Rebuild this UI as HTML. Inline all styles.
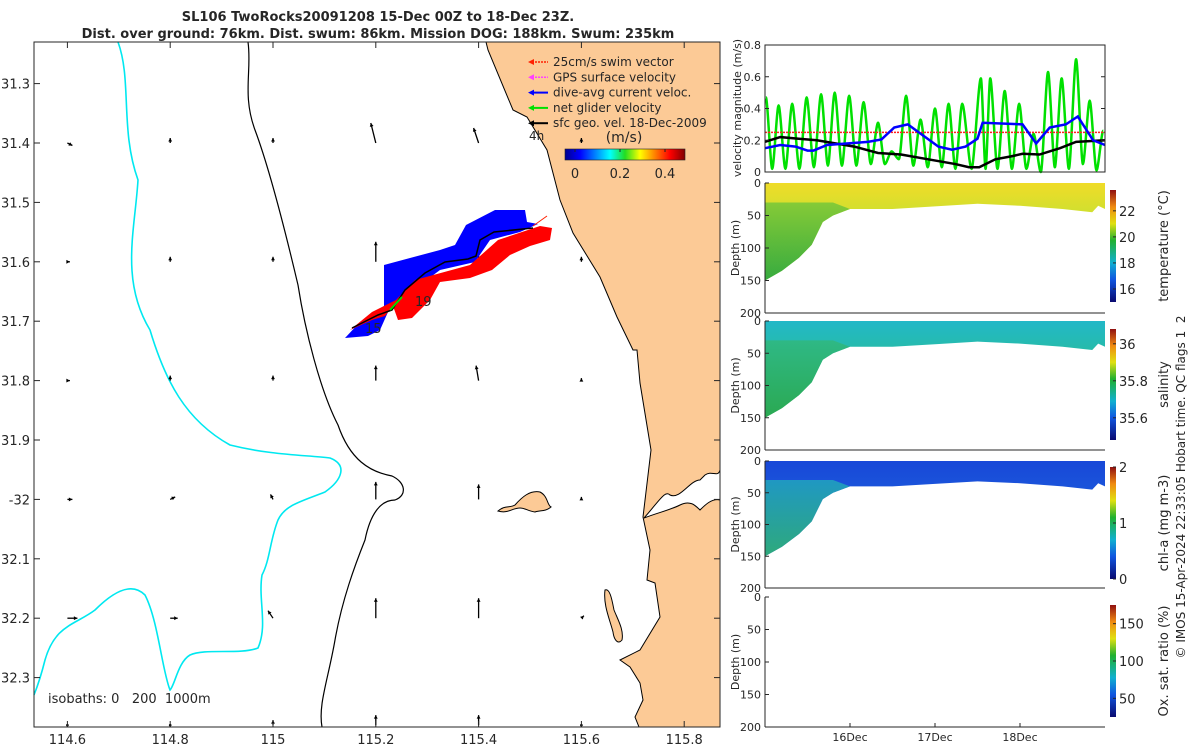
<!DOCTYPE html>
<html><head><meta charset="utf-8">
<style>
html,body{margin:0;padding:0;background:#fff;}
body{width:1200px;height:750px;overflow:hidden;font-family:"Liberation Sans","DejaVu Sans",sans-serif;}
svg text{font-family:"DejaVu Sans","Liberation Sans",sans-serif;fill:#262626;}
</style></head>
<body>
<svg id="fig" width="1200" height="750" viewBox="0 0 1200 750">
<defs>
<linearGradient id="jet" x1="0" x2="1" y1="0" y2="0">
<stop offset="0" stop-color="#00008f"/><stop offset="0.125" stop-color="#0000ff"/><stop offset="0.375" stop-color="#00ffff"/><stop offset="0.5" stop-color="#22dd22"/><stop offset="0.625" stop-color="#ffff00"/><stop offset="0.875" stop-color="#ff0000"/><stop offset="1" stop-color="#800000"/>
</linearGradient>
<linearGradient id="parula" x1="0" x2="0" y1="1" y2="0">
<stop offset="0" stop-color="#0a0a70"/><stop offset="0.2" stop-color="#1055e0"/><stop offset="0.35" stop-color="#10b0d0"/><stop offset="0.55" stop-color="#20b030"/><stop offset="0.7" stop-color="#e0e010"/><stop offset="0.85" stop-color="#f08a10"/><stop offset="1" stop-color="#901010"/>
</linearGradient>
<linearGradient id="tempG" x1="0" x2="0" y1="0" y2="1"><stop offset="0" stop-color="#f0dc28"/><stop offset="0.35" stop-color="#cce030"/><stop offset="1" stop-color="#a8d838"/></linearGradient>
<linearGradient id="tempDeep" x1="0" x2="0" y1="0" y2="1"><stop offset="0" stop-color="#7cc838"/><stop offset="1" stop-color="#2aa640"/></linearGradient>
<linearGradient id="salG" x1="0" x2="0" y1="0" y2="1"><stop offset="0" stop-color="#22b8c8"/><stop offset="0.4" stop-color="#28bca0"/><stop offset="1" stop-color="#30b060"/></linearGradient>
<linearGradient id="salDeep" x1="0" x2="0" y1="0" y2="1"><stop offset="0" stop-color="#30b880"/><stop offset="1" stop-color="#2aa850"/></linearGradient>
<linearGradient id="chlG" x1="0" x2="0" y1="0" y2="1"><stop offset="0" stop-color="#1848d8"/><stop offset="1" stop-color="#2070e0"/></linearGradient>
<linearGradient id="chlDeep" x1="0" x2="0" y1="0" y2="1"><stop offset="0" stop-color="#20a0c0"/><stop offset="1" stop-color="#30b070"/></linearGradient>
</defs>
<g id="map"></g>
<g id="right"></g>
<text x="378" y="21" text-anchor="middle" font-size="13" font-weight="bold">SL106 TwoRocks20091208 15-Dec 00Z to 18-Dec 23Z.</text>
<text x="378" y="38" text-anchor="middle" font-size="13" font-weight="bold">Dist. over ground: 76km. Dist. swum: 86km. Mission DOG: 188km. Swum: 235km</text>
</svg>
<script>
// ---------- MAP DATA ----------
const lonTicks = [114.6, 114.8, 115, 115.2, 115.4, 115.6, 115.8];
const lonTickLabels = ["114.6","114.8","115","115.2","115.4","115.6","115.8"];
const latTicks = [31.3,31.4,31.5,31.6,31.7,31.8,31.9,32.0,32.1,32.2,32.3];
const latTickLabels = ["31.3","31.4","31.5","31.6","31.7","31.8","31.9","-32","32.1","32.2","32.3"];
const arrowLons = [114.6, 114.8, 115, 115.2, 115.4, 115.6];
const arrowLats = [31.4, 31.6, 31.8, 32.0, 32.2, 32.38];
// u,v components (m/s) per row (lat) x column (lon)
const arrowU = [
 [0.02,0,0,-0.02,-0.02,0],
 [0.01,0,0,0,0,0],
 [0.01,0,0,0,-0.01,0],
 [0.02,0.02,-0.01,0,0,0],
 [0.04,0.03,-0.02,0,0,0.01],
 [0,0,0,0,0,0]];
const arrowV = [
 [-0.01,0.02,0.02,0.08,0.06,0.02],
 [0,0.02,0.02,0.08,0.06,0.02],
 [0,0.02,0.02,0.06,0.06,0.01],
 [0,0.01,0.02,0.07,0.06,0.01],
 [0,0,0.03,0.08,0.08,0.01],
 [0,0,0.02,0.04,0.04,0]];

const NS='http://www.w3.org/2000/svg';
function mk(tag, attrs, parent){const e=document.createElementNS(NS,tag);for(const k in attrs)e.setAttribute(k,attrs[k]);if(parent)parent.appendChild(e);return e;}
const map=document.getElementById('map');
const MX0=34, MX1=720, MY0=42, MY1=727;
function lx(lon){return 273 + (lon-115)*514;}
function ly(lat){return 143 + (lat-31.4)*594;}

const landPts=[[486,42],[720,42],[720,727],[639,727],[635,717],[643,700],[640,683],[630,667],[620,660],[640,650],[660,617],[655,583],[647,580],[650,550],[643,517],[651,450],[640,383],[637,350],[633,350],[617,317],[600,277],[573,233],[560,200],[547,150],[527,117],[513,110],[488,50]];
let p=mk('polygon',{points:landPts.map(q=>q.join(',')).join(' '),fill:'#fcca96',stroke:'#000','stroke-width':1},map);

p=mk('path',{d:'M644,518 C660,500 665,490 670,495 C680,500 690,480 700,480 L705,475 C712,470 718,478 720,470 L720,500 C712,498 705,505 700,510 C695,505 690,500 680,505 C670,510 660,512 644,518 Z',fill:'#fff',stroke:'#000','stroke-width':1},map);

p=mk('path',{d:'M498,511 C505,505 510,508 515,505 C522,497 530,490 540,492 C548,496 547,505 551,507 C545,512 540,510 535,512 C528,511 525,508 520,508 C512,508 508,514 498,511 Z',fill:'#fcca96',stroke:'#000','stroke-width':1},map);

p=mk('path',{d:'M605,590 C610,588 612,600 614,610 C618,620 624,630 622,640 C618,645 614,640 613,632 C610,620 603,605 605,590 Z',fill:'#fcca96',stroke:'#000','stroke-width':1},map);


p=mk('path',{d:'M248,42 C252,70 242,95 255,130 C270,170 285,230 298,285 C305,330 320,390 338,425 C350,460 370,472 392,476 C405,482 408,495 395,500 C380,500 370,515 365,540 C355,565 342,600 335,640 C328,680 318,705 322,727',fill:'none',stroke:'#000','stroke-width':1.2},map);

p=mk('path',{d:'M118,42 C132,80 120,130 138,180 C135,230 120,280 150,330 C165,380 185,420 230,445 C270,455 305,455 330,458 C348,465 342,480 325,492 C300,502 285,505 278,520 C270,540 270,560 262,575 C258,600 268,625 258,648 C240,655 205,648 190,655 C178,662 175,685 170,690 C162,670 158,620 145,595 C130,580 110,595 95,610 C75,625 55,625 45,660 C40,680 36,690 34,695',fill:'none',stroke:'#00e8f0','stroke-width':1.6},map);


arrowLats.forEach((la,i)=>arrowLons.forEach((lo,j)=>{
  const x=lx(lo), y=ly(la), u=arrowU[i][j]*250, v=arrowV[i][j]*250;
  const g=mk('g',{},map);
  
  
  if(u===0&&v===0){ mk('circle',{cx:x,cy:y,r:1.3,fill:'#000'},g); return; }
  const x2=x+u, y2=y-v;
  mk('line',{x1:x,y1:y,x2:x2,y2:y2,stroke:'#000','stroke-width':1.3},g);
  const ang=Math.atan2(y2-y,x2-x), L=4;
  mk('polygon',{points:`${x2},${y2} ${x2-L*Math.cos(ang-0.5)},${y2-L*Math.sin(ang-0.5)} ${x2-L*Math.cos(ang+0.5)},${y2-L*Math.sin(ang+0.5)}`,fill:'#000'},g);
}));

p=mk('polygon',{points:'345,338 360,322 384,306 384,265 410,258 440,250 455,245 466,225 495,210 525,210 527,222 538,224 520,232 490,240 475,262 440,270 420,285 400,300 388,312 380,330 368,336',fill:'#0000ff'},map);

p=mk('polygon',{points:'350,330 372,312 396,300 415,280 470,265 498,240 540,226 552,228 550,240 530,246 510,255 492,270 470,278 440,282 430,300 412,318 398,320 393,306 385,316 372,320',fill:'#ff0000'},map);

p=mk('polyline',{points:'352,328 378,315 392,310 405,290 425,273 445,262 468,259 476,256 480,240 494,232 533,228',fill:'none',stroke:'#000','stroke-width':1.5},map);

p=mk('line',{x1:390,y1:310,x2:402,y2:297,stroke:'#00e000','stroke-width':2},map);

p=mk('line',{x1:533,y1:226,x2:547,y2:216,stroke:'#ff2000','stroke-width':1},map);

let t=mk('text',{x:415,y:306,'font-size':13},map);t.textContent='19';

t=mk('text',{x:365,y:333,'font-size':13},map);t.textContent='15';


const legendLabels=['25cm/s swim vector','GPS surface velocity','dive-avg current veloc.','net glider velocity','sfc geo. vel. 18-Dec-2009'];
const legendColors=['#ff2000','#ff40ff','#0000ff','#00e000','#000'];
legendLabels.forEach((lab,i)=>{
  const y=62+i*15.3;
  const g=mk('g',{},map);
  
  
  mk('line',{x1:532,y1:y,x2:548,y2:y,stroke:legendColors[i],'stroke-width':i>=2?2:1.5,'stroke-dasharray':i<2?'2,1':'none'},g);
  mk('polygon',{points:`528,${y} 534,${y-3} 534,${y+3}`,fill:legendColors[i]},g);
  const tx=mk('text',{x:553,y:y+4,'font-size':12},g);tx.textContent=lab;
});
t=mk('text',{x:529,y:140,'font-size':12},map);t.textContent='4h';

const cbTicks=[0,0.2,0.4], cbLabels=['0','0.2','0.4'];
const cbg=mk('g',{},map);
mk('rect',{x:565,y:149,width:120,height:11,fill:'url(#jet)',stroke:'#222','stroke-width':0.6},cbg);
function cbx(v){return 575+v*(665-575)/0.4;}
cbTicks.forEach((v,i)=>{mk('line',{x1:cbx(v),y1:149,x2:cbx(v),y2:152,stroke:'#222'},cbg);const tt=mk('text',{x:cbx(v),y:178,'font-size':13,'text-anchor':'middle'},cbg);tt.textContent=cbLabels[i];});
t=mk('text',{x:624,y:142,'font-size':14,'text-anchor':'middle'},cbg);t.textContent='(m/s)';

p=mk('rect',{x:MX0,y:MY0,width:MX1-MX0,height:MY1-MY0,fill:'none',stroke:'#262626','stroke-width':1},map);

lonTicks.forEach((lo,i)=>{const x=lx(lo);mk('line',{x1:x,y1:MY1,x2:x,y2:MY1-6,stroke:'#262626'},map);mk('line',{x1:x,y1:MY0,x2:x,y2:MY0+6,stroke:'#262626'},map);
 const tt=mk('text',{x:x,y:744,'font-size':13,'text-anchor':'middle'},map);tt.textContent=lonTickLabels[i];
 });
latTicks.forEach((la,i)=>{const y=ly(la);mk('line',{x1:MX0,y1:y,x2:MX0+6,y2:y,stroke:'#262626'},map);mk('line',{x1:MX1,y1:y,x2:MX1-6,y2:y,stroke:'#262626'},map);
 const tt=mk('text',{x:30,y:y+5,'font-size':13,'text-anchor':'end'},map);tt.textContent=latTickLabels[i];
 });
t=mk('text',{x:48,y:703,'font-size':13},map);t.textContent='isobaths: 0\u00a0\u00a0\u00a0200\u00a0\u00a01000m';

</script>
<script>
// ---------- RIGHT PANELS DATA ----------
const greenPeakDays = [0.01,0.16,0.32,0.49,0.66,0.82,0.99,1.16,1.33,1.49,1.66,1.83,2.0,2.16,2.32,2.54,2.65,2.82,2.99,3.16,3.33,3.49,3.66,3.82,3.98];
const greenPeakVals = [0.47,0.42,0.43,0.47,0.49,0.50,0.48,0.44,0.31,0.13,0.48,0.33,0.40,0.43,0.43,0.59,0.59,0.51,0.43,0.24,0.63,0.59,0.71,0.45,0.26];
const greenTroughVals = [0.02,0.02,0.02,0.03,0.04,0.04,0.04,0.05,0.05,0.08,0.04,0.03,0.03,0.02,0.02,0.02,0.02,0.02,0.02,0.0,0.03,0.02,0.05,0.01];
const blueDays = [0,0.18,0.36,0.5,0.57,0.73,1.21,1.37,1.52,1.68,2.04,2.2,2.36,2.5,2.56,3.03,3.19,3.35,3.54,3.68,3.86,4.0];
const blueVals = [0.15,0.17,0.16,0.135,0.135,0.17,0.19,0.205,0.28,0.30,0.16,0.14,0.16,0.21,0.31,0.30,0.18,0.28,0.30,0.35,0.20,0.17];
const blackDays = [0,0.18,0.38,0.61,1.05,1.33,1.6,1.92,2.24,2.4,2.52,2.71,2.91,3.03,3.23,3.47,3.66,4.0];
const blackVals = [0.19,0.22,0.21,0.20,0.16,0.12,0.11,0.08,0.05,0.03,0.03,0.08,0.10,0.115,0.11,0.15,0.19,0.20];
const swimSpeed = 0.25;
const velTicks = [0,0.2,0.4,0.6,0.8], velTickLabels=['0','0.2','0.4','0.6','0.8'];
const dateTicks = [1,2,3], dateTickLabels=['16Dec','17Dec','18Dec'];
const depthTicks=[0,50,100,150,200], depthTickLabels=['0','50','100','150','200'];
const diveDays = [0,0.2,0.4,0.55,0.68,0.8,1.0,1.5,2.0,2.5,3.0,3.5,3.85,3.92,4.0];
const diveDepth = [150,135,115,95,60,50,40,40,36,32,35,40,45,35,40];
const shelfDepth = [150,135,115,95,60,50,40];
const cbTempTicks=[16,18,20,22], cbSalTicks=[35.6,35.8,36], cbChlTicks=[0,1,2], cbOxTicks=[50,100,150];

const R=document.getElementById('right');
const RX0=765, RX1=1105;
function dx(d){return RX0+d*(RX1-RX0)/4;}
const VY0=45, VY1=172;
function vy(v){return VY1-v*(VY1-VY0)/0.8;}
const vg=mk('g',{},R);
mk('rect',{x:RX0,y:VY0,width:RX1-RX0,height:VY1-VY0,fill:'#fff'},vg);
let gd='';
for(let i=0;i<greenPeakDays.length;i++){
  const x=dx(greenPeakDays[i]), y=vy(greenPeakVals[i]);
  if(i===0) gd+=`M${x},${y}`;
  else{
    const xp=dx(greenPeakDays[i-1]), tx=(xp+x)/2, ty=vy(greenTroughVals[i-1]);
    const yp=vy(greenPeakVals[i-1]);
    const w1=(tx-xp)/2, w2=(x-tx)/2;
    gd+=` C${xp+w1*0.55},${yp} ${tx-w1*0.55},${ty} ${tx},${ty} C${tx+w2*0.55},${ty} ${x-w2*0.55},${y} ${x},${y}`;
  }
}
p=mk('path',{d:gd,fill:'none',stroke:'#00e000','stroke-width':2.5},vg);

p=mk('line',{x1:RX0,y1:vy(swimSpeed),x2:RX1,y2:vy(swimSpeed),stroke:'#ff2020','stroke-width':1.5,'stroke-dasharray':'2,1'},vg);

p=mk('polyline',{points:blackDays.map((d,i)=>dx(d)+','+vy(blackVals[i])).join(' '),fill:'none',stroke:'#000','stroke-width':2.5},vg);

p=mk('polyline',{points:blueDays.map((d,i)=>dx(d)+','+vy(blueVals[i])).join(' '),fill:'none',stroke:'#0000ff','stroke-width':2.5},vg);

mk('rect',{x:RX0,y:VY0,width:RX1-RX0,height:VY1-VY0,fill:'none',stroke:'#262626'},vg);
velTicks.forEach((v,i)=>{const y=vy(v);mk('line',{x1:RX0,y1:y,x2:RX0+4,y2:y,stroke:'#262626'},vg);mk('line',{x1:RX1,y1:y,x2:RX1-4,y2:y,stroke:'#262626'},vg);
 const tt=mk('text',{x:RX0-4,y:y+4,'font-size':11,'text-anchor':'end'},vg);tt.textContent=velTickLabels[i];});
t=mk('text',{x:741,y:108,'font-size':11,'text-anchor':'middle',transform:'rotate(-90 741 108)'},vg);t.textContent='velocity magnitude (m/s)';


const panels=[
 {y0:183,y1:313,name:'temperature-section',fill:'url(#tempG)',deep:'url(#tempDeep)',cb:{y0:190,y1:302,min:15,max:23.6,ticks:cbTempTicks,labels:['16','18','20','22']},label:'temperature (°C)'},
 {y0:321,y1:450,name:'salinity-section',fill:'url(#salG)',deep:'url(#salDeep)',cb:{y0:329,y1:440,min:35.48,max:36.08,ticks:cbSalTicks,labels:['35.6','35.8','36']},label:'salinity'},
 {y0:461,y1:588,name:'chlorophyll-section',fill:'url(#chlG)',deep:'url(#chlDeep)',cb:{y0:467,y1:579,min:0,max:2,ticks:cbChlTicks,labels:['0','1','2']},label:'chl-a (mg m-3)'},
 {y0:597,y1:727,name:'oxygen-section',fill:null,deep:null,cb:{y0:605,y1:717,min:25,max:175,ticks:cbOxTicks,labels:['50','100','150']},label:'Ox. sat. ratio (%)'}
];
panels.forEach((P,pi)=>{
  const g=mk('g',{},R);
  const zy=z=>P.y0+z*(P.y1-P.y0)/200;
  if(P.fill){
    let pts=[[dx(0),zy(0)],[dx(4),zy(0)]];
    for(let i=diveDays.length-1;i>=0;i--)pts.push([dx(diveDays[i]),zy(diveDepth[i])]);
    p=mk('polygon',{points:pts.map(q=>q.join(',')).join(' '),fill:P.fill},g);
    
    let dp=[[dx(0),zy(30)],[dx(0.8),zy(30)]];
    for(let i=shelfDepth.length-1;i>=0;i--)dp.push([dx(diveDays[i]),zy(shelfDepth[i])]);
    p=mk('polygon',{points:dp.map(q=>q.join(',')).join(' '),fill:P.deep,opacity:0.9},g);
    
  }
  mk('line',{x1:RX0,y1:P.y0,x2:RX0,y2:P.y1,stroke:'#262626'},g);
  mk('line',{x1:RX0,y1:P.y1,x2:RX1,y2:P.y1,stroke:'#262626'},g);
  depthTicks.forEach((z,i)=>{const y=zy(z);mk('line',{x1:RX0,y1:y,x2:RX0+4,y2:y,stroke:'#262626'},g);
   const tt=mk('text',{x:RX0-4,y:y+4,'font-size':11,'text-anchor':'end'},g);tt.textContent=depthTickLabels[i];});
  const my=(P.y0+P.y1)/2;
  const tt=mk('text',{x:739,y:my,'font-size':11,'text-anchor':'middle',transform:`rotate(-90 739 ${my})`},g);tt.textContent='Depth (m)';
  
  const C=P.cb, cy=v=>C.y1-(v-C.min)*(C.y1-C.y0)/(C.max-C.min);
  const cg=mk('g',{},g);
  mk('rect',{x:1110,y:C.y0,width:6,height:C.y1-C.y0,fill:'url(#parula)'},cg);
  C.ticks.forEach((v,i)=>{const y=cy(v);mk('line',{x1:1113,y1:y,x2:1116,y2:y,stroke:'#262626'},cg);
   const t2=mk('text',{x:1119,y:y+5,'font-size':13},cg);t2.textContent=C.labels[i];});
  const lxp=1168, lyp=(C.y0+C.y1)/2;
  const t3=mk('text',{x:lxp,y:lyp,'font-size':13,'text-anchor':'middle',transform:`rotate(-90 ${lxp} ${lyp})`},cg);t3.textContent=P.label;
});
dateTicks.forEach((d,i)=>{const x=dx(d);mk('line',{x1:x,y1:727,x2:x,y2:723,stroke:'#262626'},R);
 const tt=mk('text',{x:x,y:741,'font-size':11,'text-anchor':'middle'},R);tt.textContent=dateTickLabels[i];
 });
t=mk('text',{x:1185,y:487,'font-size':12,'text-anchor':'middle',transform:'rotate(-90 1185 487)'},R);
t.textContent='© IMOS 15-Apr-2024 22:33:05 Hobart time. QC flags 1\u00a0\u00a02';

</script>
</body></html>
